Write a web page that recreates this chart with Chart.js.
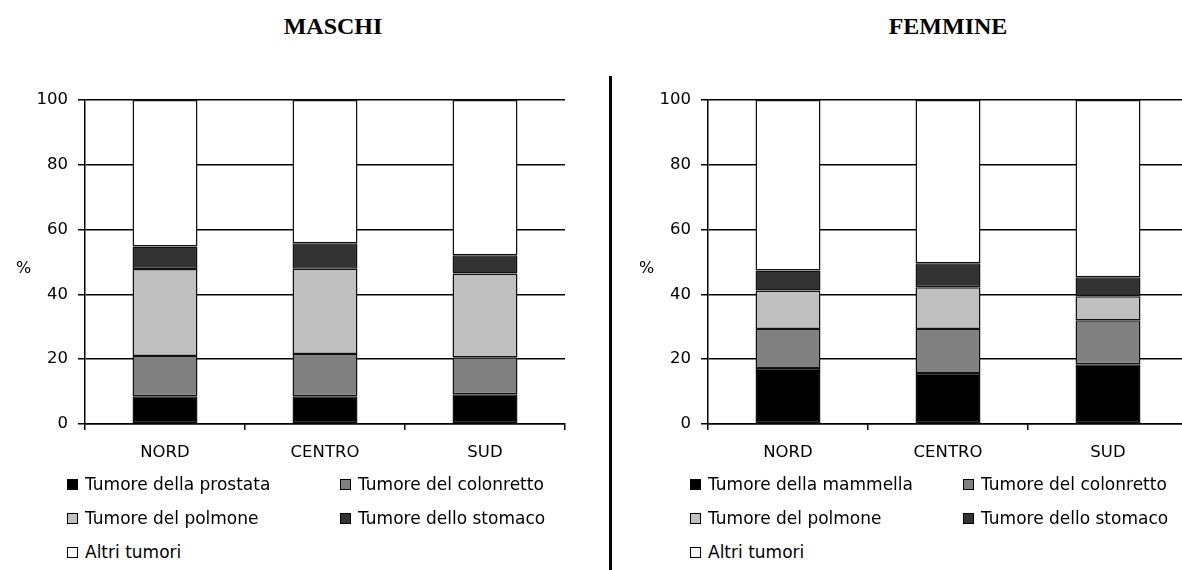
<!DOCTYPE html>
<html>
<head>
<meta charset="utf-8">
<script src="https://cdn.jsdelivr.net/npm/chart.js@4.4.1/dist/chart.umd.min.js"></script>
<style>
  html, body { margin:0; padding:0; background:#fff; width:1182px; height:570px; overflow:hidden; }
  #wrap { position:relative; width:1182px; height:570px; overflow:hidden; }
  canvas { position:absolute; }
  .title { position:absolute; font-family:"Liberation Serif","Times New Roman",serif; font-weight:bold; font-size:24px; line-height:25px; white-space:nowrap; transform:translateX(-50%); color:#000; }
  .pct { position:absolute; font-family:"DejaVu Sans",sans-serif; font-size:16px; line-height:16px; color:#000; }
  .leg { position:absolute; font-family:"DejaVu Sans",sans-serif; font-size:17px; line-height:20px; color:#000; white-space:nowrap; }
  .leg .box { position:absolute; left:0; top:5px; width:9px; height:9px; border:1px solid #000; }
  .leg .txt { position:absolute; left:18px; top:0; }
  #divider { position:absolute; left:609px; top:76px; width:3px; height:494px; background:#000; }
</style>
</head>
<body>
<div id="wrap">
  <div class="title" style="left:333px; top:14px;">MASCHI</div>
  <div class="title" style="left:948px; top:14px;">FEMMINE</div>
  <div id="divider"></div>
  <canvas id="cM" width="600" height="400" style="left:0px; top:80px;"></canvas>
  <canvas id="cF" width="600" height="400" style="left:623px; top:80px;"></canvas>
  <div class="pct" style="left:16px; top:260px;">%</div>
  <div class="pct" style="left:639px; top:260px;">%</div>
  <div id="legM"></div>
  <div id="legF"></div>
</div>
<script>
const categories = ["NORD", "CENTRO", "SUD"];
const yTicks = [0, 20, 40, 60, 80, 100];

const seriesNamesM = ["Tumore della prostata", "Tumore del colonretto", "Tumore del polmone", "Tumore dello stomaco", "Altri tumori"];
const seriesNamesF = ["Tumore della mammella", "Tumore del colonretto", "Tumore del polmone", "Tumore dello stomaco", "Altri tumori"];
const seriesColors = ["#000000", "#808080", "#c0c0c0", "#333333", "#ffffff"];

// MASCHI values (%), per region NORD, CENTRO, SUD
const mProstata   = [8.6, 8.6, 9.2];
const mColonretto = [12.4, 13.0, 11.4];
const mPolmone    = [26.8, 26.3, 25.8];
const mStomaco    = [7.0, 7.9, 5.7];
const mAltri      = [45.2, 44.2, 47.9];

// FEMMINE values (%)
const fMammella   = [17.3, 15.7, 18.4];
const fColonretto = [12.0, 13.6, 13.6];
const fPolmone    = [11.9, 12.9, 7.4];
const fStomaco    = [6.2, 7.4, 5.9];
const fAltri      = [52.6, 50.4, 54.7];

const FONT = { family: "DejaVu Sans", size: 16.5 };

function makeChart(id, names, seriesData) {
  const datasets = seriesData.map((d, i) => ({
    label: names[i],
    data: d,
    backgroundColor: seriesColors[i],
    borderColor: "#111",
    borderWidth: 1.5,
    borderSkipped: false,
    barPercentage: 0.406,
    categoryPercentage: 1.0
  }));
  return new Chart(document.getElementById(id), {
    type: "bar",
    data: { labels: categories, datasets },
    options: {
      responsive: false,
      animation: false,
      events: [],
      layout: { padding: { left: 0, right: 35, top: 17, bottom: 0 } },
      plugins: { legend: { display: false }, tooltip: { enabled: false } },
      scales: {
        x: {
          stacked: true,
          offset: true,
          grid: { display: true, drawOnChartArea: false, drawTicks: true, tickLength: 6, color: "#000", lineWidth: 1.5, offset: true },
          border: { display: true, color: "#000", width: 1.5 },
          ticks: { color: "#000", font: FONT, padding: 13, maxRotation: 0 },
          afterFit: (s) => { s.height = 56; }
        },
        y: {
          stacked: true,
          min: 0, max: 100,
          afterBuildTicks: (s) => { s.ticks = yTicks.map(v => ({ value: v })); },
          grid: { display: true, drawOnChartArea: true, drawTicks: true, tickLength: 7, color: "#000", lineWidth: 1.5 },
          border: { display: true, color: "#000", width: 1.5 },
          ticks: { color: "#000", font: FONT, padding: 10 },
          afterFit: (s) => { s.width = 85; }
        }
      }
    }
  });
}

makeChart("cM", seriesNamesM, [mProstata, mColonretto, mPolmone, mStomaco, mAltri]);
makeChart("cF", seriesNamesF, [fMammella, fColonretto, fPolmone, fStomaco, fAltri]);

function makeLegend(id, names, axisX) {
  const el = document.getElementById(id);
  const colOff = [axisX - 18, axisX + 255];
  const rowTop = [474, 508, 542];
  names.forEach((n, i) => {
    const row = Math.floor(i / 2), col = i % 2;
    const item = document.createElement("div");
    item.className = "leg";
    item.style.left = colOff[col] + "px";
    item.style.top = rowTop[row] + "px";
    const box = document.createElement("span");
    box.className = "box";
    box.style.background = seriesColors[i];
    const txt = document.createElement("span");
    txt.className = "txt";
    txt.textContent = n;
    item.appendChild(box);
    item.appendChild(txt);
    el.appendChild(item);
  });
}
makeLegend("legM", seriesNamesM, 85);
makeLegend("legF", seriesNamesF, 708);
</script>
</body>
</html>
